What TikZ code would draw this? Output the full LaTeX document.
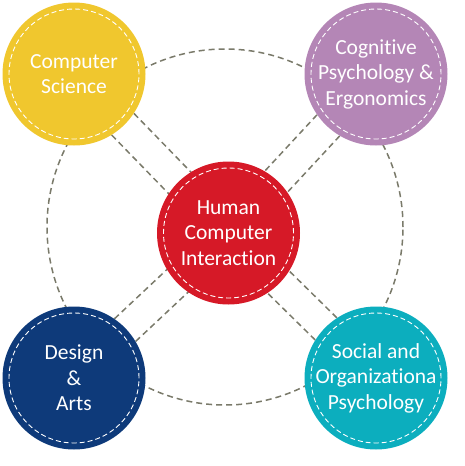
\documentclass[tikz,border=0pt]{standalone}
\usepackage{fontspec}
\setmainfont{Carlito}[Ligatures=NoCommon]
\usetikzlibrary{calc}
\usetikzlibrary{backgrounds}

\definecolor{csyellow}{RGB}{240,199,46}
\definecolor{cppurple}{RGB}{180,134,182}
\definecolor{hcired}{RGB}{214,25,39}
\definecolor{danavy}{RGB}{14,58,122}
\definecolor{soteal}{RGB}{12,174,190}
\definecolor{linkgray}{RGB}{122,122,106}

\begin{document}
\begin{tikzpicture}[x=1pt, y=-1pt,
    disc/.style={circle, minimum size=143pt, inner sep=0pt,
        path picture={\draw[white, line width=0.9pt, dash pattern=on 5pt off 3pt]
            (path picture bounding box.center) circle (65pt);}},
    word/.style={text=white, align=center, font=\fontsize{21.5}{25.5}\selectfont},
    link/.style={draw=linkgray, line width=1.5pt, dash pattern=on 6pt off 4pt}]
        \useasboundingbox (0,0) rectangle (464,466);
        \node[disc, fill=hcired] (hci) at (228.5,233) {};
        \node[disc, fill=csyellow] (cs) at (74,74) {};
        \node[disc, fill=cppurple] (cp) at (376,74) {};
        \node[disc, fill=danavy] (da) at (74,378) {};
        \node[disc, fill=soteal] (so) at (376,378) {};
        \begin{scope}[on background layer]
            \draw[link] (225,227) circle (178pt);
            \foreach \c in {cs,cp,da,so}{
                \draw[link] ($(\c)!15.5pt!90:(hci)$)--($(hci)!15.5pt!-90:(\c)$);
                \draw[link] ($(\c)!15.5pt!-90:(hci)$)--($(hci)!15.5pt!90:(\c)$);
            }
        \end{scope}
        \node[word] (hcit) at (hci) {Human\\Computer\\Interaction};
        \node[word] (cst) at (cs) {Computer\\Science};
        \node[word] (cpt) at (cp) {Cognitive\\Psychology \&\\Ergonomics};
        \node[word] (dat) at (da) {Design\\\&\\Arts};
        \node[word] (sot) at (so) {Social and\\Organizationa\\Psychology};
    \end{tikzpicture}
\end{document}
